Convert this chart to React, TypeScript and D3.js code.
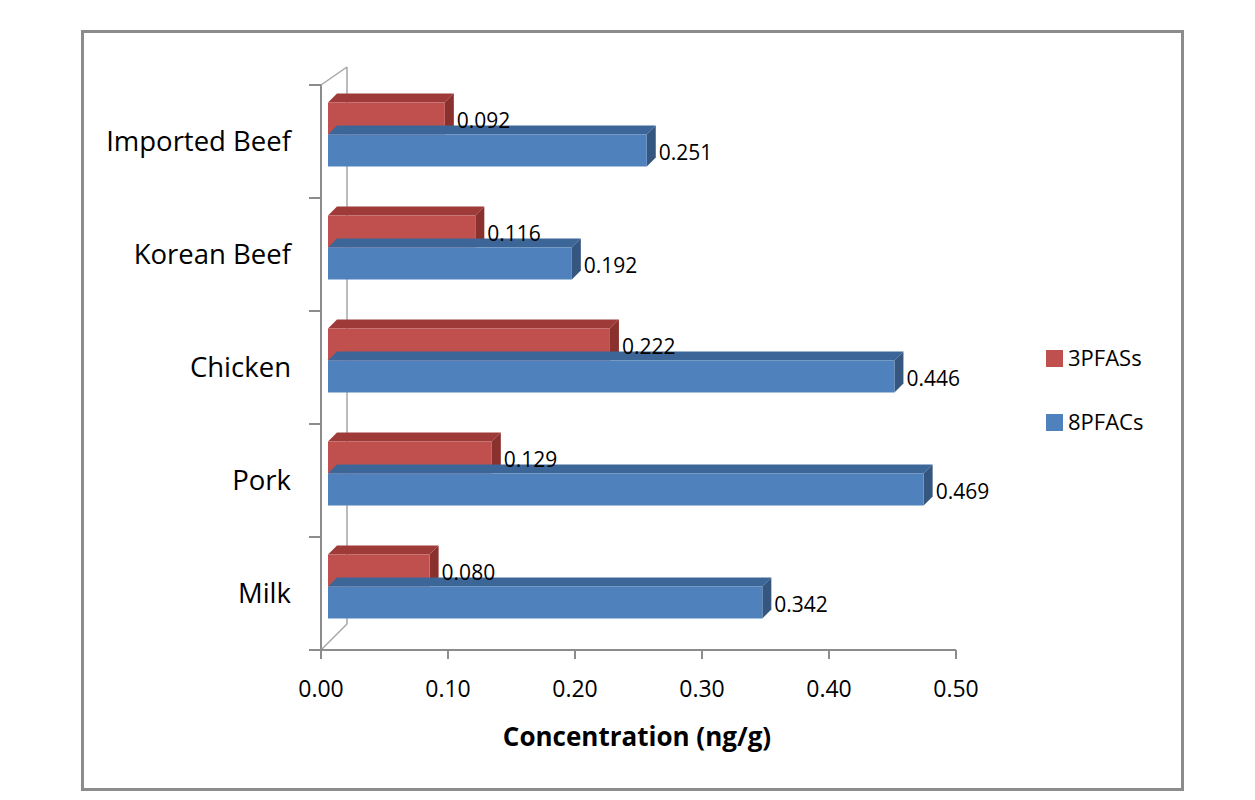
import React from "react";
import * as d3 from "d3";

const categories = ["Imported Beef", "Korean Beef", "Chicken", "Pork", "Milk"];
const seriesNames = ["3PFASs", "8PFACs"];
const pfas3 = [0.092, 0.116, 0.222, 0.129, 0.08];
const pfac8 = [0.251, 0.192, 0.446, 0.469, 0.342];
const xTicks = [0, 0.1, 0.2, 0.3, 0.4, 0.5];

const FONT = "'Open Sans', 'Segoe UI', sans-serif";
const faceColors = [
  { front: "#C0504D", top: "#9E3B38", side: "#8A302D" },
  { front: "#4F81BD", top: "#3D6698", side: "#34567F" },
];

export default function App() {
  const W = 1255, H = 800;
  const x0 = 321, x1 = 956, yTop = 85, yBot = 650;
  const x = d3.scaleLinear().domain([0, 0.5]).range([x0, x1]);
  const y = d3.scaleBand().domain(categories).range([yTop, yBot]).paddingInner(0);
  const fdx = 7, fdy = -7; // front face offset
  const ddx = 9, ddy = -9; // bar depth
  const barH = 32;
  const series = [pfas3, pfac8];

  const bars: React.ReactNode[] = [];
  const labels: React.ReactNode[] = [];
  categories.forEach((c, i) => {
    const center = (y(c) as number) + y.bandwidth() / 2 + fdy;
    series.forEach((vals, s) => {
      const v = vals[i];
      const top = center - barH + s * barH;
      const xl = x(0) + fdx;
      const xr = x(v) + fdx;
      const col = faceColors[s];
      bars.push(
        <g key={`b${i}-${s}`}>
          <polygon
            points={`${xl},${top} ${xl + ddx},${top + ddy} ${xr + ddx},${top + ddy} ${xr},${top}`}
            fill={col.top}
          />
          <polygon
            points={`${xr},${top} ${xr + ddx},${top + ddy} ${xr + ddx},${top + barH + ddy} ${xr},${top + barH}`}
            fill={col.side}
          />
          <rect x={xl} y={top} width={xr - xl} height={barH} fill={col.front} />
        </g>
      );
      labels.push(
        <text
          key={`l${i}-${s}`}
          x={xr + ddx + 3}
          y={top + barH / 2 + 9}
          fontSize={21}
          fontFamily={FONT}
          fill="#000"
        >
          {d3.format(".3f")(v)}
        </text>
      );
    });
  });

  return (
    <svg width={W} height={H} style={{ position: "absolute", left: 0, top: 0 }}>
      <rect x={0} y={0} width={W} height={H} fill="#fff" />
      <rect x={82.5} y={31.5} width={1100} height={758} fill="#fff" stroke="#8c8c8c" strokeWidth={3} />
      {/* back wall / depth lines */}
      <g stroke="#a6a6a6" strokeWidth={1.5} fill="none">
        <line x1={347} y1={67} x2={347} y2={624} />
        <line x1={x0} y1={yTop} x2={347} y2={67} />
        <line x1={x0} y1={yBot} x2={347} y2={624} />
      </g>
      {/* left axis */}
      <g stroke="#8c8c8c" strokeWidth={2}>
        <line x1={x0} y1={yTop} x2={x0} y2={yBot} />
        {categories.map((c) => (
          <line key={c} x1={309} y1={y(c) as number} x2={x0} y2={y(c) as number} />
        ))}
        <line x1={309} y1={yBot} x2={x0} y2={yBot} />
      </g>
      {bars}
      {labels}
      {/* bottom axis */}
      <g stroke="#8c8c8c" strokeWidth={2}>
        <line x1={x0} y1={yBot} x2={x1} y2={yBot} />
        {xTicks.map((t) => (
          <line key={t} x1={x(t)} y1={yBot} x2={x(t)} y2={yBot + 9} />
        ))}
      </g>
      {xTicks.map((t) => (
        <text key={`t${t}`} x={x(t)} y={697} textAnchor="middle" fontSize={23} fontFamily={FONT} fill="#000">
          {d3.format(".2f")(t)}
        </text>
      ))}
      {categories.map((c) => (
        <text
          key={`c${c}`}
          x={291}
          y={(y(c) as number) + y.bandwidth() / 2 + 9}
          textAnchor="end"
          fontSize={27.5}
          fontFamily={FONT}
          fill="#000"
        >
          {c}
        </text>
      ))}
      <text x={637} y={746} textAnchor="middle" fontSize={26} fontWeight="bold" fontFamily={FONT} fill="#000">
        Concentration (ng/g)
      </text>
      {/* legend */}
      {seriesNames.map((n, s) => (
        <g key={n}>
          <rect x={1046} y={350 + s * 64} width={17} height={17} fill={faceColors[s].front} />
          <text x={1068} y={366 + s * 64} fontSize={22} fontFamily={FONT} fill="#000">
            {n}
          </text>
        </g>
      ))}
    </svg>
  );
}
